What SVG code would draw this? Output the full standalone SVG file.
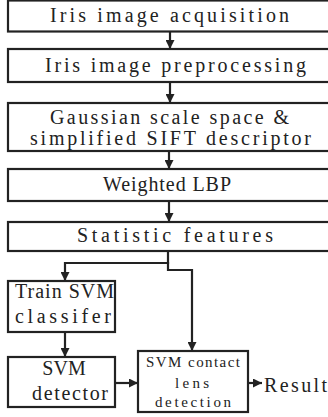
<svg xmlns="http://www.w3.org/2000/svg" width="328" height="417" viewBox="0 0 328 417">
  <style>
    .box { fill: #ffffff; stroke: #222222; stroke-width: 2.2; }
    .lbl { font-family: "Liberation Serif", "DejaVu Serif", serif; font-size: 20px; fill: #222222; }
    .sm { font-size: 15px; }
    .wire { fill: none; stroke: #222222; stroke-width: 2.2; }
  </style>
  <defs>
    <marker id="arrow" viewBox="0 0 10 10" refX="10" refY="5" markerWidth="9" markerHeight="9" markerUnits="userSpaceOnUse" orient="auto">
      <path d="M0,0 L10,5 L0,10 Z" fill="#222222"/>
    </marker>
  </defs>
  <rect width="328" height="417" fill="#ffffff"/>

  <g id="acquisition">
    <rect class="box" x="8" y="0.5" width="324" height="31"/>
    <text class="lbl" x="50" y="22" textLength="239" lengthAdjust="spacing">Iris image acquisition</text>
  </g>
  <g id="preprocessing">
    <rect class="box" x="8" y="49" width="324" height="33"/>
    <text class="lbl" x="45" y="72" textLength="261" lengthAdjust="spacing">Iris image preprocessing</text>
  </g>
  <g id="sift">
    <rect class="box" x="8" y="103" width="324" height="48"/>
    <text class="lbl" x="50" y="124" textLength="239" lengthAdjust="spacing">Gaussian scale space &amp;</text>
    <text class="lbl" x="30" y="145" textLength="281" lengthAdjust="spacing">simplified SIFT descriptor</text>
  </g>
  <g id="lbp">
    <rect class="box" x="8" y="169" width="324" height="32"/>
    <text class="lbl" x="103" y="191" textLength="128" lengthAdjust="spacing">Weighted LBP</text>
  </g>
  <g id="statistic">
    <rect class="box" x="8" y="222" width="324" height="29"/>
    <text class="lbl" x="77" y="242" textLength="196" lengthAdjust="spacing">Statistic features</text>
  </g>
  <g id="train">
    <rect class="box" x="8" y="281" width="107" height="51"/>
    <text class="lbl" x="15" y="298" textLength="99" lengthAdjust="spacing">Train SVM</text>
    <text class="lbl" x="15" y="323" textLength="96" lengthAdjust="spacing">classifer</text>
  </g>
  <g id="detector">
    <rect class="box" x="8" y="357" width="107" height="50"/>
    <text class="lbl" x="64" y="375" font-size="18" text-anchor="middle">SVM</text>
    <text class="lbl" x="32" y="400" textLength="76" lengthAdjust="spacing">detector</text>
  </g>
  <g id="lens-detection">
    <rect class="box" x="138" y="351" width="110" height="61"/>
    <text class="lbl sm" x="146" y="367" textLength="94" lengthAdjust="spacing">SVM contact</text>
    <text class="lbl sm" x="175" y="388" textLength="34" lengthAdjust="spacing">lens</text>
    <text class="lbl sm" x="155" y="407" textLength="76" lengthAdjust="spacing">detection</text>
  </g>
  <g id="result">
    <text class="lbl" x="264" y="392" textLength="63" lengthAdjust="spacing">Result</text>
  </g>

  <g id="connectors">
    <line class="wire" x1="170" y1="32" x2="170" y2="49" marker-end="url(#arrow)"/>
    <line class="wire" x1="170" y1="82" x2="170" y2="103" marker-end="url(#arrow)"/>
    <line class="wire" x1="169" y1="151" x2="169" y2="169" marker-end="url(#arrow)"/>
    <line class="wire" x1="169" y1="201" x2="169" y2="222" marker-end="url(#arrow)"/>
    <polyline class="wire" points="168,251 168,263 65,263 65,281" marker-end="url(#arrow)"/>
    <polyline class="wire" points="168,262 168,270 192,270 192,351" marker-end="url(#arrow)"/>
    <line class="wire" x1="65" y1="332" x2="65" y2="357" marker-end="url(#arrow)"/>
    <line class="wire" x1="115" y1="383" x2="138" y2="383" marker-end="url(#arrow)"/>
    <line class="wire" x1="248" y1="383" x2="262" y2="383" marker-end="url(#arrow)"/>
  </g>
</svg>
